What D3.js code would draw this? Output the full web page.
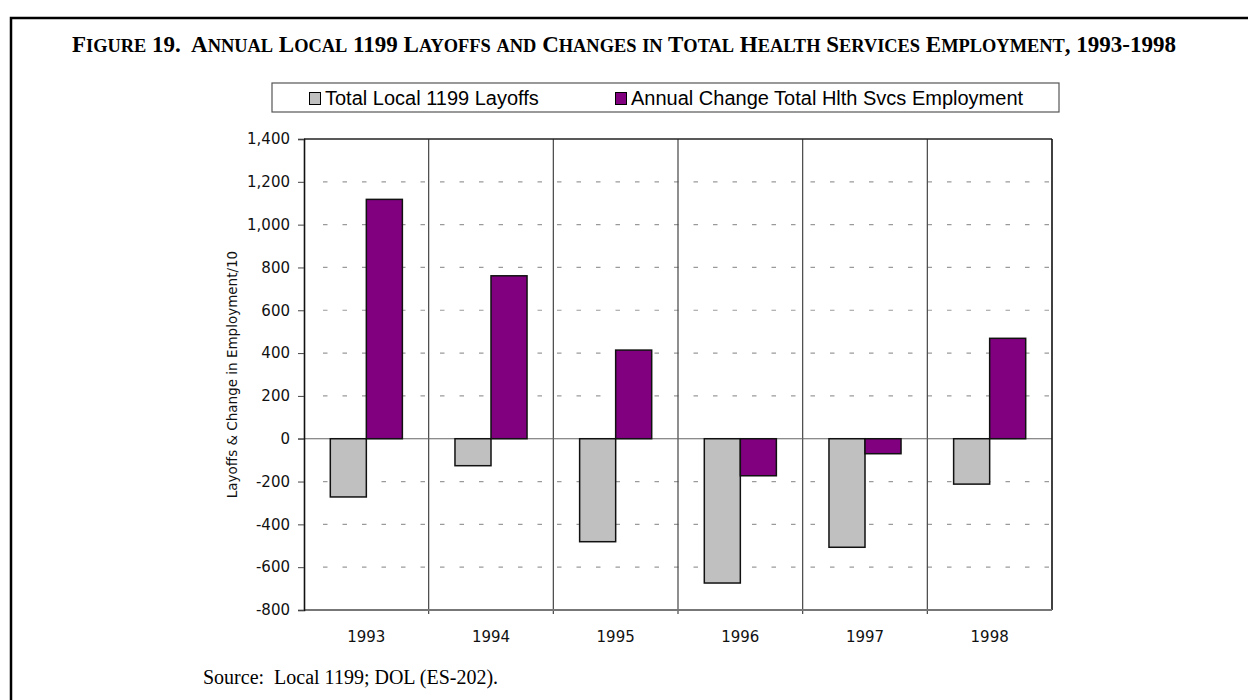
<!DOCTYPE html>
<html>
<head>
<meta charset="utf-8">
<script src="https://cdn.jsdelivr.net/npm/d3@7"></script>
<style>
    body { margin: 0; background: #fff; }
</style>
</head>
<body>
<div id="chart"></div>
<script>
// data
var years = ["1993", "1994", "1995", "1996", "1997", "1998"];
var layoffs = [-272, -126, -481, -674, -507, -212];
var healthChange = [1118, 761, 414, -173, -70, 469];
var seriesNames = ["Total Local 1199 Layoffs", "Annual Change Total Hlth Svcs Employment"];
var seriesColors = ["#c0c0c0", "#800080"];
var yTicks = [-800, -600, -400, -200, 0, 200, 400, 600, 800, 1000, 1200, 1400];

function init() {

    var w = 1248;
    var h = 700;

    //plot area
    var left = 304, right = 1052, top = 139, bottom = 610;

    var dataset = years.map(function (y, i) {
        return { year: y, values: [layoffs[i], healthChange[i]] };
    });

    var svg = d3.select("#chart")
        .append("svg")
        .attr("width", w)
        .attr("height", h);

    //outer frame
    svg.append("path")
        .attr("d", "M11," + h + " V18 H" + w)
        .attr("fill", "none")
        .attr("stroke", "#000")
        .attr("stroke-width", 2.5);

    //title, small caps done by hand so the lower case letters are bigger
    var title = "Figure 19.  Annual Local 1199 Layoffs and Changes in Total Health Services Employment, 1993-1998";
    var runs = [];
    title.split("").forEach(function (c) {
        var small = c != c.toUpperCase();
        if (runs.length && runs[runs.length - 1].small == small) {
            runs[runs.length - 1].text += c;
        } else {
            runs.push({ small: small, text: c });
        }
    });

    var titleText = svg.append("text")
        .attr("x", 624)
        .attr("y", 52)
        .attr("text-anchor", "middle")
        .style("font-family", "'Liberation Serif', 'Times New Roman', serif")
        .style("font-weight", "bold")
        .style("white-space", "pre");

    titleText.selectAll("tspan")
        .data(runs)
        .enter()
        .append("tspan")
        .style("font-size", function (d) { return d.small ? "18.4px" : "23px"; })
        .text(function (d) { return d.text.toUpperCase(); });

    //legend
    var legend = svg.append("g");
    legend.append("rect")
        .attr("x", 272)
        .attr("y", 83)
        .attr("width", 787)
        .attr("height", 29)
        .attr("fill", "#fff")
        .attr("stroke", "#555")
        .attr("stroke-width", 1.2);

    var legendX = [309, 615];
    var items = legend.selectAll("g.item")
        .data(seriesNames)
        .enter()
        .append("g")
        .attr("class", "item")
        .attr("transform", function (d, i) { return "translate(" + legendX[i] + ",0)"; });

    items.append("rect")
        .attr("x", 0.5)
        .attr("y", 92.5)
        .attr("width", 11)
        .attr("height", 12)
        .attr("fill", function (d, i) { return seriesColors[i]; })
        .attr("stroke", "#000")
        .attr("stroke-width", 1);

    items.append("text")
        .attr("x", 16)
        .attr("y", 105)
        .style("font-family", "'Liberation Sans', Arial, sans-serif")
        .style("font-size", "20px")
        .text(function (d) { return d; });

    //scales
    var xScale = d3.scaleBand()
        .domain(years)
        .range([left, right])
        .paddingInner(0)
        .paddingOuter(0);

    var xInner = d3.scaleBand()
        .domain([0, 1])
        .range([0, xScale.bandwidth()])
        .paddingInner(0)
        .paddingOuter(0.73);

    var yScale = d3.scaleLinear()
        .domain([-800, 1400])
        .range([bottom, top]);

    //dashed gridlines
    svg.append("g")
        .selectAll("line")
        .data(yTicks.filter(function (d) { return d != 0 && d != 1400; }))
        .enter()
        .append("line")
        .attr("x1", left + 19)
        .attr("x2", right)
        .attr("y1", function (d) { return yScale(d); })
        .attr("y2", function (d) { return yScale(d); })
        .attr("stroke", "#9a9a9a")
        .attr("stroke-width", 1.2)
        .attr("stroke-dasharray", "4.5,15");

    //category separators
    svg.append("g")
        .selectAll("line")
        .data(years.slice(1))
        .enter()
        .append("line")
        .attr("x1", function (d) { return xScale(d); })
        .attr("x2", function (d) { return xScale(d); })
        .attr("y1", top)
        .attr("y2", bottom + 4)
        .attr("stroke", "#444")
        .attr("stroke-width", 1.2);

    //zero line
    svg.append("line")
        .attr("x1", left - 6)
        .attr("x2", right)
        .attr("y1", yScale(0))
        .attr("y2", yScale(0))
        .attr("stroke", "#666")
        .attr("stroke-width", 1.2);

    //bars
    var groups = svg.selectAll("g.year")
        .data(dataset)
        .enter()
        .append("g")
        .attr("class", "year")
        .attr("transform", function (d) { return "translate(" + xScale(d.year) + ",0)"; });

    groups.selectAll("rect")
        .data(function (d) { return d.values; })
        .enter()
        .append("rect")
        .attr("x", function (d, i) { return xInner(i); })
        .attr("y", function (d) { return yScale(Math.max(0, d)); })
        .attr("width", xInner.bandwidth())
        .attr("height", function (d) { return Math.abs(yScale(d) - yScale(0)); })
        .attr("fill", function (d, i) { return seriesColors[i]; })
        .attr("stroke", "#111")
        .attr("stroke-width", 1.5);

    //plot border: top, right, bottom
    svg.append("line")
        .attr("x1", left).attr("x2", right)
        .attr("y1", top).attr("y2", top)
        .attr("stroke", "#222").attr("stroke-width", 1.3);
    svg.append("line")
        .attr("x1", right).attr("x2", right)
        .attr("y1", top).attr("y2", bottom)
        .attr("stroke", "#111").attr("stroke-width", 1.6);
    svg.append("line")
        .attr("x1", left).attr("x2", right)
        .attr("y1", bottom).attr("y2", bottom)
        .attr("stroke", "#777").attr("stroke-width", 2);

    //y axis
    var fmt = d3.format(",");
    var yAxis = d3.axisLeft()
        .scale(yScale)
        .tickValues(yTicks)
        .tickSize(6)
        .tickPadding(8)
        .tickFormat(function (d) { return fmt(d).replace("\u2212", "-"); });

    var yAxisG = svg.append("g")
        .attr("transform", "translate(" + left + ",0)")
        .call(yAxis);
    yAxisG.select(".domain").attr("stroke", "#111").attr("stroke-width", 1.6);
    yAxisG.selectAll(".tick line").attr("stroke", "#444");
    yAxisG.selectAll("text")
        .attr("fill", "#111")
        .style("font-family", "'DejaVu Sans', Verdana, sans-serif")
        .style("font-size", "15px");

    //x axis labels
    var xAxis = d3.axisBottom()
        .scale(xScale)
        .tickSize(0)
        .tickPadding(21);

    var xAxisG = svg.append("g")
        .attr("transform", "translate(0," + bottom + ")")
        .call(xAxis);
    xAxisG.select(".domain").remove();
    xAxisG.selectAll("text")
        .attr("fill", "#111")
        .style("font-family", "'DejaVu Sans', Verdana, sans-serif")
        .style("font-size", "15px");

    //y axis title
    svg.append("text")
        .attr("transform", "translate(237," + ((top + bottom) / 2) + ") rotate(-90)")
        .attr("text-anchor", "middle")
        .attr("fill", "#111")
        .style("font-family", "'DejaVu Sans', Verdana, sans-serif")
        .style("font-size", "13.5px")
        .text("Layoffs & Change in Employment/10");

    //source note
    svg.append("text")
        .attr("x", 203)
        .attr("y", 684)
        .style("font-family", "'Liberation Serif', 'Times New Roman', serif")
        .style("font-size", "20px")
        .style("white-space", "pre")
        .text("Source:  Local 1199; DOL (ES-202).");
}

window.onload = init;
</script>
</body>
</html>
